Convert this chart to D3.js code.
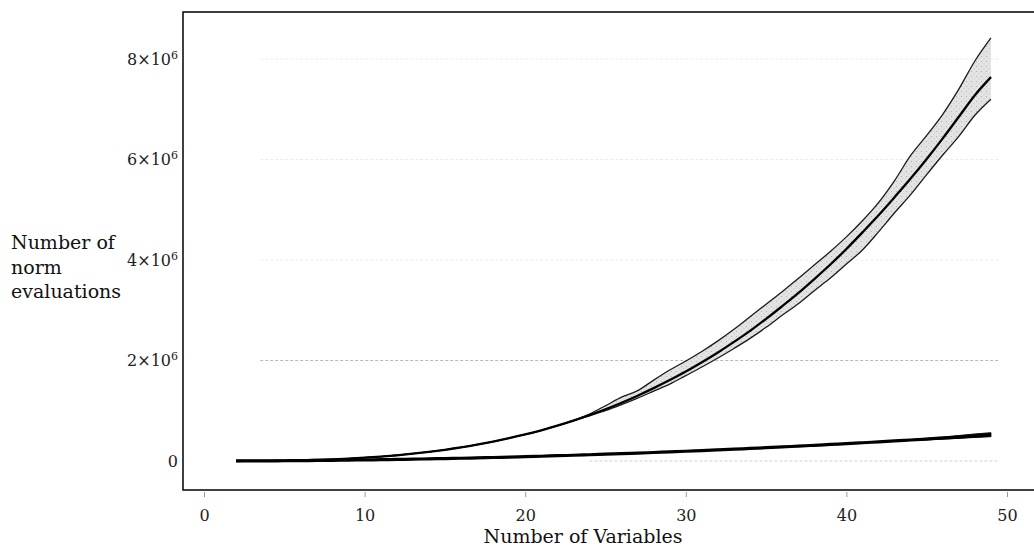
<!DOCTYPE html>
<html>
<head>
<meta charset="utf-8">
<script src="https://cdn.jsdelivr.net/npm/d3@7"></script>
<style>
  html, body { margin: 0; padding: 0; background: #fff; }
  svg { display: block; font-family: "DejaVu Serif", serif; }
</style>
</head>
<body>
<svg id="chart" width="1034" height="547"></svg>
<script>
// Number of variables (x values)
const variables = [2, 3, 4, 5, 6, 7, 8, 9, 10, 11, 12, 13, 14, 15, 16, 17, 18, 19, 20, 21, 22, 23, 24, 25,
  26, 27, 28, 29, 30, 31, 32, 33, 34, 35, 36, 37, 38, 39, 40, 41, 42, 43, 44, 45, 46, 47, 48, 49];

// Steep series: mean, minimum and maximum number of norm evaluations
const steepMean = [500, 1800, 4200, 8300, 14000, 23000, 34000, 48000, 66000, 88000, 114000, 145000,
  181000, 223000, 270000, 324000, 385000, 453000, 528000, 611000, 703000, 803000, 912000, 1030000,
  1160000, 1300000, 1450000, 1610000, 1780000, 1965000, 2160000, 2370000, 2590000, 2830000, 3080000, 3340000,
  3620000, 3910000, 4220000, 4550000, 4890000, 5250000, 5620000, 6010000, 6420000, 6850000, 7280000, 7640000];
const steepMax = [500, 1800, 4200, 8300, 14000, 23000, 34000, 48000, 66000, 88000, 114000, 145000,
  181000, 223000, 270000, 324000, 385000, 453000, 528000, 611000, 703000, 803000, 935000, 1100000,
  1270000, 1400000, 1610000, 1810000, 1990000, 2180000, 2390000, 2620000, 2870000, 3120000, 3370000, 3630000,
  3900000, 4170000, 4460000, 4780000, 5140000, 5580000, 6080000, 6480000, 6900000, 7400000, 7960000, 8420000];
const steepMin = [500, 1800, 4200, 8300, 14000, 23000, 34000, 48000, 66000, 88000, 114000, 145000,
  181000, 223000, 270000, 324000, 385000, 453000, 528000, 611000, 703000, 803000, 900000, 1000000,
  1120000, 1250000, 1390000, 1530000, 1700000, 1870000, 2050000, 2240000, 2440000, 2660000, 2900000, 3130000,
  3390000, 3640000, 3920000, 4200000, 4560000, 4940000, 5300000, 5700000, 6090000, 6460000, 6880000, 7200000];

// Slow series: mean, minimum and maximum number of norm evaluations
const slowMean = [1000, 2000, 3500, 5400, 7800, 10600, 13800, 17500, 21600, 26000, 31000, 36500,
  42000, 49000, 55000, 62000, 70000, 78000, 86000, 95000, 105000, 114000, 124000, 135000,
  146000, 157000, 169000, 182000, 194000, 208000, 221000, 235000, 250000, 265000, 280000, 296000,
  312000, 329000, 346000, 363000, 381000, 399000, 418000, 437000, 457000, 477000, 498000, 519000];
const slowMax = [1000, 2000, 3500, 5400, 7800, 10600, 13800, 17500, 21600, 26000, 31000, 36500,
  42000, 49000, 55000, 62000, 70000, 78000, 86000, 95000, 105000, 114000, 124000, 135000,
  146000, 157000, 169000, 182000, 194000, 208000, 221000, 235000, 250000, 265000, 280000, 296000,
  312000, 329000, 346000, 363000, 381000, 399000, 428000, 452000, 477000, 507000, 538000, 563000];
const slowMin = [1000, 2000, 3500, 5400, 7800, 10600, 13800, 17500, 21600, 26000, 31000, 36500,
  42000, 49000, 55000, 62000, 70000, 78000, 86000, 95000, 105000, 114000, 124000, 135000,
  146000, 157000, 169000, 182000, 194000, 208000, 221000, 235000, 250000, 265000, 280000, 296000,
  312000, 329000, 346000, 363000, 381000, 399000, 408000, 422000, 437000, 452000, 468000, 484000];

// Tick values and labels
const xTicks = [0, 10, 20, 30, 40, 50];
const yTicks = [0, 2000000, 4000000, 6000000, 8000000];
const yTickMantissa = ["0", "2", "4", "6", "8"];
const yLabelLines = ["Number of", "norm", "evaluations"];
const xLabel = "Number of Variables";

const svg = d3.select("#chart");

const frame = { left: 183, top: 12, right: 1045, bottom: 490 };

const x = d3.scaleLinear().domain([0, 50]).range([204, 1007]);
const y = d3.scaleLinear().domain([0, 8000000]).range([461, 59]);

// faint horizontal grid
svg.append("g")
  .selectAll("line")
  .data(yTicks)
  .join("line")
  .attr("x1", (d, i) => i === 0 ? x(24) : x(3.5))
  .attr("x2", x(49.5))
  .attr("y1", d => y(d))
  .attr("y2", d => y(d))
  .attr("stroke", (d, i) => (i === 1 ? "#b8b8b8" : i === 0 ? "#cfcfcf" : "#ececec"))
  .attr("stroke-width", 1)
  .attr("stroke-dasharray", "3,2");

// frame
svg.append("rect")
  .attr("x", frame.left)
  .attr("y", frame.top)
  .attr("width", frame.right - frame.left)
  .attr("height", frame.bottom - frame.top)
  .attr("fill", "none")
  .attr("stroke", "#111")
  .attr("stroke-width", 1.6);

const pts = variables.map((v, i) => ({
  v,
  sMean: steepMean[i], sMax: steepMax[i], sMin: steepMin[i],
  lMean: slowMean[i], lMax: slowMax[i], lMin: slowMin[i]
}));

// stipple pattern for the spread band
const defs = svg.append("defs");
const pat = defs.append("pattern")
  .attr("id", "stipple")
  .attr("width", 5).attr("height", 5)
  .attr("patternUnits", "userSpaceOnUse");
pat.append("rect").attr("width", 5).attr("height", 5).attr("fill", "#e3e3e3");
pat.append("circle").attr("cx", 1.5).attr("cy", 1.5).attr("r", 0.6).attr("fill", "#aaa");
pat.append("circle").attr("cx", 4).attr("cy", 3.8).attr("r", 0.5).attr("fill", "#bbb");

// spread band of the steep series
svg.append("path")
  .datum(pts)
  .attr("fill", "url(#stipple)")
  .attr("d", d3.area().x(d => x(d.v)).y0(d => y(d.sMin)).y1(d => y(d.sMax)).curve(d3.curveMonotoneX));

// band edges
[["sMax"], ["sMin"]].forEach(([k]) => {
  svg.append("path")
    .datum(pts)
    .attr("fill", "none")
    .attr("stroke", "#1a1a1a")
    .attr("stroke-width", 1.3)
    .attr("d", d3.line().x(d => x(d.v)).y(d => y(d[k])).curve(d3.curveMonotoneX));
});

// steep series mean
svg.append("path")
  .datum(pts)
  .attr("fill", "none")
  .attr("stroke", "#000")
  .attr("stroke-width", 2.3)
  .attr("d", d3.line().x(d => x(d.v)).y(d => y(d.sMean)).curve(d3.curveMonotoneX));

// slow series band and mean
svg.append("path")
  .datum(pts)
  .attr("fill", "#111")
  .attr("stroke", "#111")
  .attr("stroke-width", 1)
  .attr("d", d3.area().x(d => x(d.v)).y0(d => y(d.lMin)).y1(d => y(d.lMax)).curve(d3.curveMonotoneX));
svg.append("path")
  .datum(pts)
  .attr("fill", "none")
  .attr("stroke", "#000")
  .attr("stroke-width", 3.2)
  .attr("d", d3.line().x(d => x(d.v)).y(d => y(d.lMean)).curve(d3.curveMonotoneX));

// x axis
const xAxis = svg.append("g")
  .attr("transform", `translate(0,${frame.bottom})`)
  .call(d3.axisBottom(x).tickValues(xTicks).tickSize(5).tickPadding(15).tickFormat(d3.format("d")));
xAxis.select(".domain").remove();
xAxis.selectAll(".tick line").attr("stroke", "#999").attr("transform", "translate(0,2)");
xAxis.selectAll(".tick text")
  .attr("font-family", "DejaVu Serif, serif")
  .attr("font-size", 16)
  .attr("fill", "#222");

// y axis
const yAxis = svg.append("g")
  .attr("transform", `translate(${frame.left},0)`)
  .call(d3.axisLeft(y).tickValues(yTicks).tickSize(0).tickPadding(5));
yAxis.select(".domain").remove();
yAxis.selectAll(".tick text")
  .attr("font-family", "DejaVu Serif, serif")
  .attr("font-size", 16)
  .attr("fill", "#222")
  .each(function (d, i) {
    const t = d3.select(this);
    t.text(null);
    if (d === 0) {
      t.append("tspan").text(yTickMantissa[i]);
    } else {
      t.append("tspan").text(yTickMantissa[i] + "×10");
      t.append("tspan").attr("font-size", 11).attr("dy", "-0.55em").text("6");
    }
  });

// y axis title (three lines, left of the tick labels)
svg.append("text")
  .attr("font-size", 19)
  .attr("fill", "#111")
  .selectAll("tspan")
  .data(yLabelLines)
  .join("tspan")
  .attr("x", 11)
  .attr("y", (d, i) => 249 + i * 24.5)
  .text(d => d);

// x axis title
svg.append("text")
  .attr("x", 583)
  .attr("y", 543)
  .attr("text-anchor", "middle")
  .attr("font-size", 19)
  .attr("fill", "#111")
  .text(xLabel);
</script>
</body>
</html>
